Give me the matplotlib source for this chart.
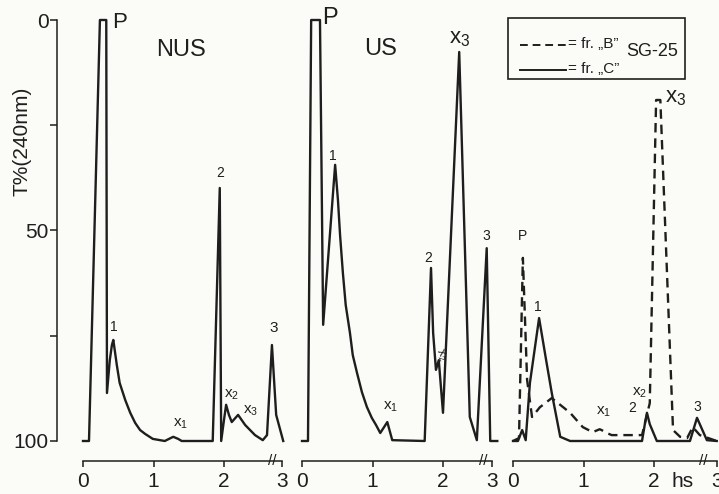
import matplotlib.pyplot as plt
from matplotlib.lines import Line2D
from matplotlib.patches import Rectangle

plt.rcParams['font.family'] = ['Liberation Sans', 'DejaVu Sans']
plt.rcParams['mathtext.default'] = 'regular'

# --- data: time (h, axis position) and transmission T% (0 top, 100 bottom) ---
# panel 1: NUS
nus_t = [0.00, 0.085, 0.24, 0.33, 0.34, 0.38, 0.41, 0.43, 0.45, 0.48, 0.52, 0.60, 0.67, 0.74,
         0.81, 0.88, 0.99, 1.16, 1.28, 1.35, 1.40, 1.84, 1.94, 1.96, 2.00, 2.03, 2.07, 2.11,
         2.20, 2.30, 2.44, 2.55, 2.61, 2.68, 2.74, 2.84]
nus_T = [100, 100, 0, 0, 88.6, 80.8, 77.2, 76.0, 78.4, 82.0, 86.2, 90.3, 93.3, 95.7,
         97.4, 98.3, 99.5, 100, 99.0, 99.5, 100, 100, 39.9, 100, 95.0, 91.4, 93.8, 95.5,
         93.8, 96.2, 98.6, 99.8, 98.6, 77.2, 93.8, 100]

# panel 2: US
us_t = [0.00, 0.085, 0.13, 0.255, 0.30, 0.47, 0.51, 0.54, 0.58, 0.62, 0.68, 0.72, 0.78, 0.85,
        0.92, 0.99, 1.05, 1.11, 1.21, 1.28, 1.74, 1.83, 1.86, 1.90, 1.94, 2.00, 2.23, 2.38,
        2.48, 2.62, 2.67, 2.77]
us_T = [100, 100, 0, 0, 72.4, 34.4, 42.8, 51.1, 60.1, 67.7, 74.3, 79.6, 83.8, 88.4,
        91.9, 94.5, 96.2, 98.1, 95.5, 99.8, 100, 58.9, 74.3, 83.1, 80.8, 93.3, 7.6, 94.3,
        99.8, 54.2, 100, 100]

# panel 3: SG-25, fraction "C" (solid) and fraction "B" (dashed)
c_t = [0.00, 0.07, 0.13, 0.18, 0.24, 0.37, 0.47, 0.55, 0.67, 0.81, 1.83, 1.87, 1.90, 1.94,
       2.04, 2.51, 2.61, 2.75, 2.89]
c_T = [100, 100, 97.4, 99.8, 86.2, 70.8, 80.8, 88.6, 99.0, 100, 100, 96, 93.3, 96,
       100, 100, 94.5, 99.8, 100]
b_t = [0.00, 0.085, 0.14, 0.20, 0.27, 0.38, 0.55, 0.81, 0.99, 1.13, 1.23, 1.28, 1.33, 1.40,
       1.83, 1.94, 2.03, 2.09, 2.27, 2.37, 2.47, 2.55, 2.65, 2.89]
b_T = [100, 99.3, 56.5, 85.5, 94.3, 92.0, 89.8, 93.3, 96.7, 97.9, 97.2, 97.6, 98.1, 98.6,
       98.6, 91.0, 19.0, 19.0, 97.4, 99.0, 99.3, 96.7, 98.6, 100]

yticks = [0, 25, 50, 75, 100]
ylabels = ['0', '', '50', '', '100']
xtick_pos = [[0, 1, 2, 2.82], [0, 1, 2, 2.70], [0, 1, 2, 2.89]]
xtick_lab = ['0', '1', '2', '3']
breaks = [2.68, 2.57, 2.70]

# peak labels (text, t, T, size)
labels1 = [('P', 0.52, 0.5, 16), ('NUS', 1.39, 7.1, 17), ('1', 0.43, 72.9, 10),
           ('2', 1.94, 36.3, 10), ('$x_1$', 1.38, 96.0, 11), ('$x_2$', 2.11, 89.1, 11),
           ('$x_3$', 2.37, 92.9, 11), ('3', 2.70, 73.2, 11)]
labels2 = [('P', 0.40, -0.5, 17), ('US', 1.12, 6.9, 17), ('1', 0.44, 32.3, 10),
           ('$x_1$', 1.25, 91.9, 11), ('2', 1.79, 56.5, 10), ('$x_3$', 2.23, 4.3, 16),
           ('3', 2.62, 51.3, 10)]
labels3 = [('P', 0.13, 51.3, 10), ('1', 0.35, 68.2, 10), ('$x_1$', 1.28, 93.1, 11),
           ('2', 1.69, 92.2, 10), ('$x_2$', 1.80, 88.6, 11), ('$x_3$', 2.31, 18.3, 16),
           ('3', 2.61, 91.9, 10)]

# --- layout (pixels of a 719x494 figure) ---
W, H = 719, 494
S = 70.5          # px per hour
Y0, PY = 20, 4.21  # pixel row of T=0, px per T%
AXIS_Y = (461 - Y0) / PY
INK = '#1e1e1e'
BG = '#fbfbf7'

fig = plt.figure(figsize=(W / 100, H / 100), dpi=100, facecolor=BG)


def make_ax(left, right, x0, ticks, brk):
    ax = fig.add_axes([left / W, 0, (right - left) / W, 1])
    ax.patch.set_alpha(0)
    ax.set_xlim((left - x0) / S, (right - x0) / S)
    ax.set_ylim((H - Y0) / PY, -Y0 / PY)
    for s in ['top', 'right', 'left']:
        ax.spines[s].set_visible(False)
    ax.spines['bottom'].set_position(('data', AXIS_Y))
    ax.spines['bottom'].set_bounds(0, ticks[-1])
    ax.spines['bottom'].set_linewidth(1.1)
    ax.spines['bottom'].set_color(INK)
    ax.set_xticks(ticks)
    ax.set_xticklabels(xtick_lab)
    ax.tick_params(axis='x', direction='out', length=4, width=1.1, color=INK,
                   labelsize=15, pad=4, labelcolor=INK)
    ax.tick_params(axis='y', left=False, labelleft=False)
    ax.text(brk, AXIS_Y, '//', ha='center', va='center', fontsize=11, color=INK)
    return ax


ax1 = make_ax(57, 296, 83, xtick_pos[0], breaks[0])
ax2 = make_ax(296, 506, 302, xtick_pos[1], breaks[1])
ax3 = make_ax(506, 719, 513, xtick_pos[2], breaks[2])

# shared T% axis on the left of panel 1
ax1.spines['left'].set_visible(True)
ax1.spines['left'].set_bounds(0, 100)
ax1.spines['left'].set_linewidth(1.1)
ax1.spines['left'].set_color(INK)
ax1.set_yticks(yticks)
ax1.set_yticklabels(ylabels)
ax1.tick_params(axis='y', left=True, labelleft=True, direction='out', length=5,
                width=1.1, color=INK, labelsize=15, pad=1, labelcolor=INK)
fig.text(22 / W, 1 - 141 / H, 'T%(240nm)', rotation=90, ha='center', va='center',
         fontsize=15, color=INK)

ax1.plot(nus_t, nus_T, color=INK, lw=1.7)
ax2.plot(us_t, us_T, color=INK, lw=1.7)
ax3.plot(c_t, c_T, color=INK, lw=1.7)
ax3.plot(b_t, b_T, color=INK, lw=1.7, ls=(0, (4, 2.5)))

for ax, labs in [(ax1, labels1), (ax2, labels2), (ax3, labels3)]:
    for txt, x, y, sz in labs:
        ax.text(x, y, txt, ha='center', va='center', fontsize=sz, color=INK)

ax2.text(1.97, 79.6, '$x_2$', ha='center', va='center', fontsize=9, rotation=-65, color=INK)
ax3.text(2.40, 109.6, 'hs', ha='center', va='center', fontsize=15, color=INK)

# legend box
fig.add_artist(Rectangle((508 / W, 1 - 79 / H), (685 - 508) / W, (79 - 18) / H,
                         transform=fig.transFigure, fill=False, lw=1.2, ec=INK))
fig.add_artist(Line2D([520 / W, 566 / W], [1 - 45 / H] * 2, transform=fig.transFigure,
                      color=INK, lw=1.4, ls=(0, (4, 2.5))))
fig.add_artist(Line2D([520 / W, 566 / W], [1 - 70 / H] * 2, transform=fig.transFigure,
                      color=INK, lw=1.4))
fig.text(568 / W, 1 - 44 / H, '= fr. „B”', ha='left', va='center', fontsize=11, color=INK)
fig.text(568 / W, 1 - 69 / H, '= fr. „C”', ha='left', va='center', fontsize=11, color=INK)
fig.text(652 / W, 1 - 52 / H, 'SG-25', ha='center', va='center', fontsize=13, color=INK)

fig.savefig('out.png', dpi=100, facecolor=BG)
